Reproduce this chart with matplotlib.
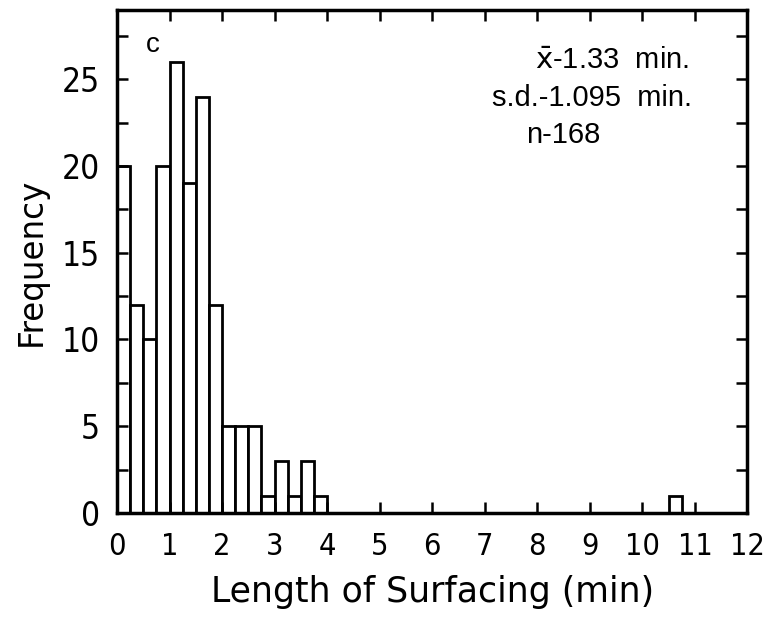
import matplotlib
matplotlib.use("Agg")
import matplotlib.pyplot as plt
from matplotlib.ticker import MultipleLocator

# surfacing durations, 0.25 min bins (only bins with counts listed)
bin_left = [0.0, 0.25, 0.5, 0.75, 1.0, 1.25, 1.5, 1.75, 2.0, 2.25, 2.5,
            2.75, 3.0, 3.25, 3.5, 3.75, 10.5]
counts = [20, 12, 10, 20, 26, 19, 24, 12, 5, 5, 5, 1, 3, 1, 3, 1, 1]
bin_width = 0.25

x_ticks = list(range(0, 13))
y_ticks = [0, 5, 10, 15, 20, 25]

stats = [(r"$\bar{\mathrm{x}}$-1.33  min.", 7.96, 26.1),
         ("s.d.-1.095  min.", 7.13, 23.9),
         ("n-168", 7.79, 21.8)]

fig = plt.figure(figsize=(7.67, 6.27), dpi=100, facecolor="white")
ax = fig.add_axes([0.1525, 0.182, 0.822, 0.802])

ax.bar(bin_left, counts, width=bin_width, align="edge", color="white",
       edgecolor="black", linewidth=2.0)

ax.set_xlim(0, 12)
ax.set_ylim(0, 29)
ax.set_xticks(x_ticks)
ax.set_yticks(y_ticks)
ax.yaxis.set_minor_locator(MultipleLocator(2.5))
ax.tick_params(which="both", direction="in", top=True, right=True,
               length=8, width=1.8)
ax.tick_params(axis="x", labelsize=22, pad=14)
ax.tick_params(axis="y", labelsize=24, pad=12)
for lab in ax.get_xticklabels() + ax.get_yticklabels():
    lab.set_family("DejaVu Sans")
    lab.set_stretch("condensed")

for side in ax.spines.values():
    side.set_linewidth(2.5)

ax.set_xlabel("Length of Surfacing (min)", fontsize=25, labelpad=10)
ax.set_ylabel("Frequency", fontsize=23.5, labelpad=10)

ax.text(0.55, 27.0, "c", fontsize=20, family="Liberation Sans",
        va="center", ha="left")
for txt, tx, ty in stats:
    ax.text(tx, ty, txt, fontsize=21, family="Liberation Sans",
            va="center", ha="left")

fig.savefig("out.png", dpi=100)
